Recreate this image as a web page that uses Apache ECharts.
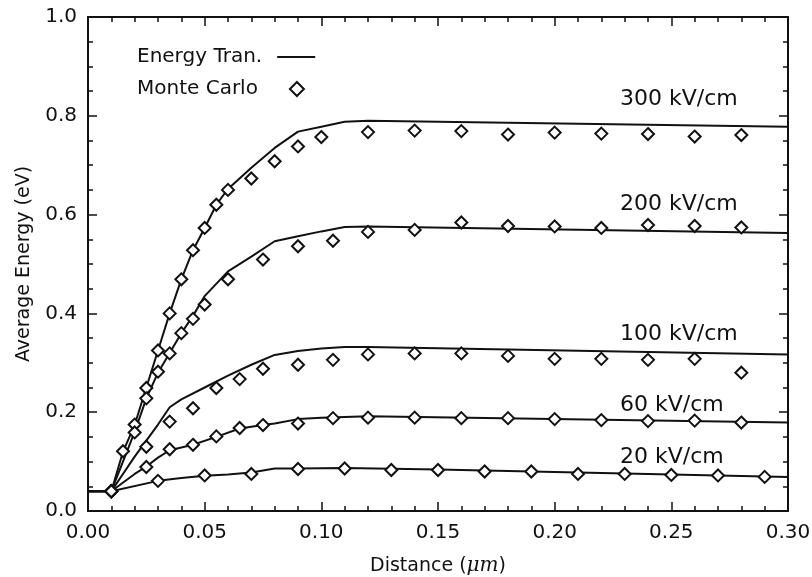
<!DOCTYPE html>
<html>
<head>
<meta charset="utf-8">
<script src="https://cdn.jsdelivr.net/npm/echarts@6/dist/echarts.min.js"></script>
<style>
  html, body { margin: 0; padding: 0; background: #fff; }
  #chart { width: 812px; height: 577px; }
</style>
</head>
<body>
<div id="chart"></div>
<script>
// Energy transport curves (distance um, energy eV)
const et300 = [[0,0.04],[0.01,0.04],[0.015,0.12],[0.02,0.174],[0.025,0.25],[0.03,0.325],[0.035,0.40],[0.04,0.469],[0.045,0.528],[0.05,0.573],[0.055,0.62],[0.06,0.652],[0.07,0.695],[0.08,0.735],[0.09,0.768],[0.10,0.778],[0.11,0.788],[0.12,0.79],[0.30,0.778]];
const et200 = [[0,0.04],[0.01,0.04],[0.02,0.16],[0.025,0.228],[0.03,0.28],[0.035,0.32],[0.04,0.36],[0.045,0.395],[0.05,0.435],[0.06,0.485],[0.07,0.515],[0.08,0.546],[0.09,0.556],[0.10,0.566],[0.11,0.575],[0.12,0.576],[0.30,0.563]];
const et100 = [[0,0.04],[0.01,0.04],[0.02,0.11],[0.03,0.175],[0.035,0.21],[0.04,0.226],[0.05,0.25],[0.06,0.274],[0.07,0.296],[0.08,0.316],[0.09,0.324],[0.10,0.329],[0.11,0.332],[0.12,0.332],[0.30,0.317]];
const et60 = [[0,0.04],[0.01,0.04],[0.02,0.075],[0.025,0.09],[0.03,0.108],[0.035,0.123],[0.045,0.134],[0.055,0.15],[0.065,0.167],[0.075,0.174],[0.08,0.177],[0.09,0.186],[0.10,0.189],[0.12,0.192],[0.30,0.179]];
const et20 = [[0,0.04],[0.01,0.04],[0.03,0.061],[0.04,0.067],[0.05,0.0715],[0.06,0.074],[0.07,0.078],[0.08,0.086],[0.09,0.086],[0.11,0.087],[0.15,0.084],[0.30,0.069]];

// Monte Carlo points
const mc300 = [[0.01,0.04],[0.015,0.121],[0.02,0.175],[0.025,0.249],[0.03,0.325],[0.035,0.40],[0.04,0.469],[0.045,0.528],[0.05,0.573],[0.055,0.62],[0.06,0.65],[0.07,0.673],[0.08,0.708],[0.09,0.738],[0.10,0.757],[0.12,0.767],[0.14,0.770],[0.16,0.769],[0.18,0.762],[0.20,0.766],[0.22,0.764],[0.24,0.763],[0.26,0.758],[0.28,0.761]];
const mc200 = [[0.01,0.04],[0.02,0.159],[0.025,0.228],[0.03,0.282],[0.035,0.319],[0.04,0.36],[0.045,0.389],[0.05,0.418],[0.06,0.469],[0.075,0.509],[0.09,0.536],[0.105,0.547],[0.12,0.565],[0.14,0.569],[0.16,0.584],[0.18,0.577],[0.20,0.576],[0.22,0.573],[0.24,0.579],[0.26,0.577],[0.28,0.574]];
const mc100 = [[0.01,0.04],[0.025,0.13],[0.035,0.181],[0.045,0.208],[0.055,0.249],[0.065,0.267],[0.075,0.288],[0.09,0.296],[0.105,0.306],[0.12,0.317],[0.14,0.319],[0.16,0.319],[0.18,0.314],[0.20,0.308],[0.22,0.308],[0.24,0.306],[0.26,0.308],[0.28,0.28]];
const mc60 = [[0.01,0.04],[0.025,0.089],[0.035,0.125],[0.045,0.134],[0.055,0.151],[0.065,0.168],[0.075,0.174],[0.09,0.177],[0.105,0.188],[0.12,0.189],[0.14,0.189],[0.16,0.188],[0.18,0.188],[0.20,0.186],[0.22,0.184],[0.24,0.182],[0.26,0.183],[0.28,0.179]];
const mc20 = [[0.01,0.04],[0.03,0.061],[0.05,0.072],[0.07,0.075],[0.09,0.085],[0.11,0.086],[0.13,0.083],[0.15,0.083],[0.17,0.080],[0.19,0.080],[0.21,0.075],[0.23,0.075],[0.25,0.073],[0.27,0.072],[0.29,0.069]];

const fieldNames = ['300 kV/cm', '200 kV/cm', '100 kV/cm', '60 kV/cm', '20 kV/cm'];
const fieldAnchors = [[0.228,0.833],[0.228,0.62],[0.228,0.357],[0.228,0.215],[0.228,0.108]];

const font = 'DejaVu Sans';
const ink = '#111';

const chart = echarts.init(document.getElementById('chart'));

const lineSets = [et300, et200, et100, et60, et20];
const mcSets = [mc300, mc200, mc100, mc60, mc20];

const series = [];
lineSets.forEach(function (d) {
    series.push({
        name: 'Energy Tran.',
        type: 'line',
        data: d,
        symbol: 'none',
        smooth: false,
        color: ink,
        lineStyle: { color: ink, width: 2 },
        z: 2
    });
});
mcSets.forEach(function (d) {
    series.push({
        name: 'Monte Carlo',
        type: 'scatter',
        data: d,
        symbol: 'diamond',
        symbolSize: 12,
        color: ink,
        itemStyle: { color: '#fff', borderColor: ink, borderWidth: 2, opacity: 1 },
        z: 3
    });
});
series.push({
    name: 'fields',
    type: 'scatter',
    symbolSize: 0,
    silent: true,
    itemStyle: { opacity: 1 },
    data: fieldNames.map(function (n, i) { return { name: n, value: fieldAnchors[i] }; }),
    label: {
        show: true,
        position: 'right',
        distance: 0,
        formatter: '{b}',
        fontFamily: font,
        fontSize: 22,
        color: ink,
        opacity: 1
    }
});

function frameAxis(extra) {
    return Object.assign({
        axisLine: { onZero: false, lineStyle: { color: ink, width: 2 } },
        axisTick: { inside: true, length: 9, lineStyle: { color: ink, width: 1.5 } },
        splitLine: { show: false }
    }, extra);
}

const option = {
    backgroundColor: '#fff',
    animation: false,
    grid: { left: 88, right: 24, top: 17, bottom: 66, outerBoundsMode: 'none' },
    legend: [
        {
            data: ['Energy Tran.'],
            left: 132, top: 42,
            orient: 'vertical',
            align: 'right',
            icon: 'rect',
            itemWidth: 38, itemHeight: 2,
            selectedMode: false,
            textStyle: { fontFamily: font, fontSize: 20, color: ink, padding: [0, 10, 0, 0] }
        },
        {
            data: ['Monte Carlo'],
            left: 132, top: 74,
            orient: 'vertical',
            align: 'right',
            itemWidth: 14, itemHeight: 14,
            selectedMode: false,
            textStyle: { fontFamily: font, fontSize: 20, color: ink, padding: [0, 27, 0, 0] }
        }
    ],
    xAxis: [
        frameAxis({
            type: 'value', min: 0, max: 0.30, interval: 0.05, position: 'bottom',
            minorTick: { show: true, splitNumber: 5, length: 5, lineStyle: { color: ink, width: 1.5 } },
            name: 'Distance ({i|μm})',
            nameLocation: 'middle',
            nameGap: 45,
            nameTextStyle: {
                fontFamily: font, fontSize: 19, color: ink,
                rich: { i: { fontFamily: 'DejaVu Serif', fontStyle: 'italic', fontSize: 20, color: ink } }
            },
            axisLabel: {
                margin: 12, fontFamily: font, fontSize: 20, color: ink,
                formatter: function (v) { return v.toFixed(2); }
            }
        }),
        frameAxis({
            type: 'value', min: 0, max: 0.30, interval: 0.05, position: 'top',
            minorTick: { show: true, splitNumber: 5, length: 5, lineStyle: { color: ink, width: 1.5 } },
            axisLabel: { show: false }
        })
    ],
    yAxis: [
        frameAxis({
            type: 'value', min: 0, max: 1, interval: 0.2, position: 'left',
            minorTick: { show: true, splitNumber: 4, length: 5, lineStyle: { color: ink, width: 1.5 } },
            name: 'Average Energy (eV)',
            nameLocation: 'middle',
            nameGap: 54,
            nameTextStyle: { fontFamily: font, fontSize: 19, color: ink },
            axisLabel: {
                margin: 11, fontFamily: font, fontSize: 20, color: ink,
                formatter: function (v) { return v.toFixed(1); }
            }
        }),
        frameAxis({
            type: 'value', min: 0, max: 1, interval: 0.2, position: 'right',
            minorTick: { show: true, splitNumber: 4, length: 5, lineStyle: { color: ink, width: 1.5 } },
            axisLabel: { show: false }
        })
    ],
    series: series
};

chart.setOption(option);
window.addEventListener('resize', chart.resize);
</script>
</body>
</html>
